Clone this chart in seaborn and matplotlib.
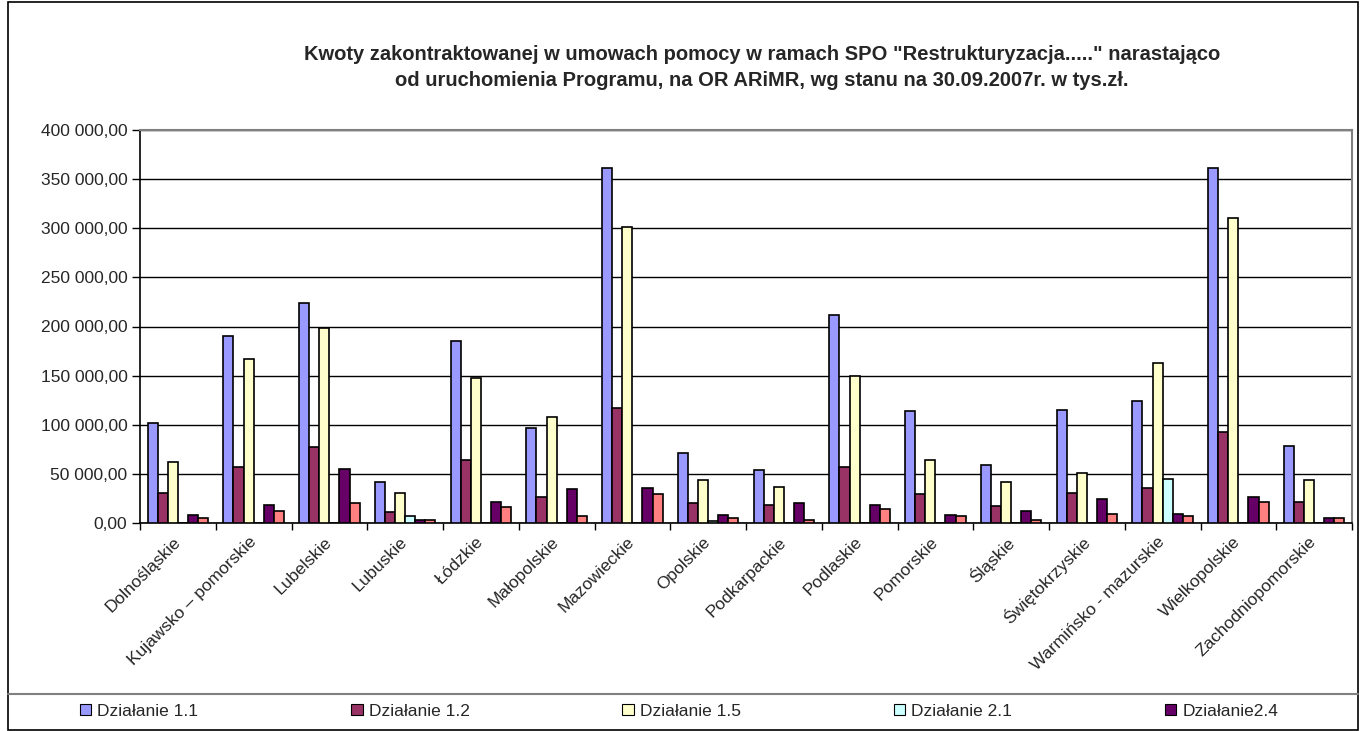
import numpy as np
import pandas as pd
import matplotlib
matplotlib.use("Agg")
import matplotlib.pyplot as plt
import seaborn as sns
from matplotlib.patches import Rectangle, Patch
from matplotlib.lines import Line2D
from matplotlib.ticker import FuncFormatter, MultipleLocator, FixedLocator

regions = ["Dolnośląskie", "Kujawsko – pomorskie", "Lubelskie", "Lubuskie", "Łódzkie",
           "Małopolskie", "Mazowieckie", "Opolskie", "Podkarpackie", "Podlaskie",
           "Pomorskie", "Śląskie", "Świętokrzyskie", "Warmińsko - mazurskie",
           "Wielkopolskie", "Zachodniopomorskie"]

dz_1_1 = [101600, 190000, 224000, 42000, 185000, 97000, 361000, 71300, 54100, 211800,
          113700, 58600, 115200, 124500, 361000, 78400]
dz_1_2 = [30900, 57200, 77400, 11400, 64600, 26900, 116800, 20200, 18800, 56900,
          29600, 17200, 30900, 35700, 92500, 21800]
dz_1_5 = [61900, 167000, 198000, 30900, 148000, 108000, 301400, 43400, 37000, 150000,
          64600, 42000, 50800, 162500, 310600, 43400]
dz_2_1 = [0, 0, 0, 6700, 0, 0, 0, 2000, 0, 0, 0, 0, 0, 44700, 0, 0]
dz_2_4 = [8100, 18800, 54500, 3300, 21800, 34600, 36000, 8100, 20200, 18500,
          8100, 12400, 24800, 9400, 26600, 5000]
dz_other = [5400, 12700, 20500, 3300, 16200, 6700, 29600, 5400, 3000, 14100,
            6700, 3300, 9400, 6700, 21800, 5000]

series_names = ["Działanie 1.1", "Działanie 1.2", "Działanie 1.5", "Działanie 2.1",
                "Działanie2.4", "Działanie 2.x"]
colors = ["#9999FF", "#993366", "#FFFFCC", "#CCFFFF", "#660066", "#FF8080"]

df = pd.DataFrame({"Region": regions,
                   series_names[0]: dz_1_1, series_names[1]: dz_1_2,
                   series_names[2]: dz_1_5, series_names[3]: dz_2_1,
                   series_names[4]: dz_2_4, series_names[5]: dz_other})
long = df.melt(id_vars="Region", var_name="Seria", value_name="Kwota")

sns.set_style("white")
plt.rcParams["font.family"] = ["Liberation Sans", "DejaVu Sans"]

W, H = 1362, 731
fig = plt.figure(figsize=(W / 100, H / 100), dpi=100)
ax = fig.add_axes([140 / W, 1 - 523 / H, (1352 - 140) / W, (523 - 130) / H])

sns.barplot(data=long, x="Region", y="Kwota", hue="Seria", hue_order=series_names,
            order=regions, palette=colors, edgecolor="black", linewidth=1.2,
            saturation=1, errorbar=None, width=0.8, legend=False, ax=ax, zorder=3)

ax.set_ylim(0, 400000)
ax.set_xlim(-0.5, len(regions) - 0.5)
ax.yaxis.set_major_locator(MultipleLocator(50000))
ax.yaxis.set_major_formatter(FuncFormatter(
    lambda v, p: f"{v:,.2f}".replace(",", " ").replace(".", ",")))
ax.grid(axis="y", color="black", linewidth=1.0, zorder=0)
ax.set_axisbelow(True)
ax.set_xlabel("")
ax.set_ylabel("")

for s in ["left", "bottom"]:
    ax.spines[s].set_color("black")
    ax.spines[s].set_linewidth(1.2)
for s in ["top", "right"]:
    ax.spines[s].set_color("#808080")
    ax.spines[s].set_linewidth(1.5)

ax.tick_params(axis="y", which="major", direction="out", length=6, width=1,
               color="black", labelsize=12.5, pad=3, left=True)
ax.set_xticks(range(len(regions)))
ax.set_xticklabels(regions, rotation=45, ha="right", va="center", rotation_mode="anchor",
                   fontsize=12.5)
ax.tick_params(axis="x", which="major", length=0, pad=12)
ax.xaxis.set_minor_locator(FixedLocator(np.arange(-0.5, len(regions), 1.0)))
ax.tick_params(axis="x", which="minor", direction="out", length=5, width=1,
               color="black", bottom=True)

fig.text(762 / W, 1 - 67.5 / H,
         "Kwoty zakontraktowanej w umowach pomocy w ramach SPO \"Restrukturyzacja.....\" narastająco\n"
         "od uruchomienia Programu, na OR ARiMR, wg stanu na 30.09.2007r. w tys.zł.",
         ha="center", va="center", fontsize=14.5, fontweight="bold", linespacing=1.5)

# outer frame and legend box
fig.add_artist(Rectangle((8 / W, 1 / H), (1358 - 8) / W, (729 - 1) / H, transform=fig.transFigure,
                         fill=False, edgecolor="black", linewidth=1.2))
fig.add_artist(Line2D([8 / W, 1358 / W], [1 - 694 / H, 1 - 694 / H], transform=fig.transFigure,
                      color="#808080", linewidth=1.5))

handles = [Patch(facecolor=c, edgecolor="black", linewidth=0.8) for c in colors[:5]]
fig.legend(handles, series_names[:5], loc="center", ncol=5,
           bbox_to_anchor=(73 / W, 1 - 727 / H, 1212 / W, 32 / H), mode="expand",
           frameon=False, fontsize=12.5, handlelength=0.65, handleheight=0.65,
           handletextpad=0.35, borderaxespad=0)

fig.savefig("out.png", dpi=100)
